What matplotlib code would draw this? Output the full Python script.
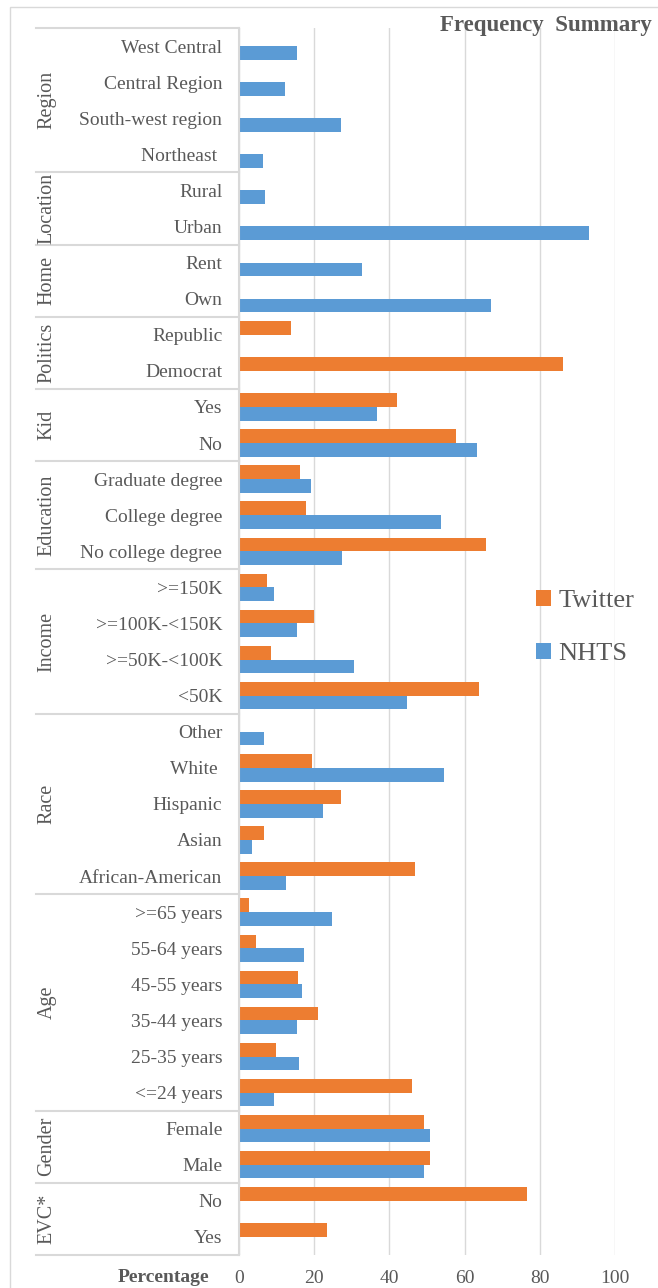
import numpy as np
import matplotlib.pyplot as plt
import matplotlib.transforms as mtransforms
from matplotlib.patches import Rectangle

plt.rcParams['font.family'] = ['Liberation Serif', 'DejaVu Serif']

# groups and their categories, listed top to bottom
groups = ["Region", "Location", "Home", "Politics", "Kid", "Education",
          "Income", "Race", "Age", "Gender", "EVC*"]
group_cats = [
    ["West Central", "Central Region", "South-west region", "Northeast "],
    ["Rural", "Urban"],
    ["Rent", "Own"],
    ["Republic", "Democrat"],
    ["Yes", "No"],
    ["Graduate degree", "College degree", "No college degree"],
    [">=150K", ">=100K-<150K", ">=50K-<100K", "<50K"],
    ["Other", "White ", "Hispanic", "Asian", "African-American"],
    [">=65 years", "55-64 years", "45-55 years", "35-44 years", "25-35 years", "<=24 years"],
    ["Female", "Male"],
    ["No", "Yes"],
]

# percentages (0 = no bar)
twitter = [0, 0, 0, 0,
           0, 0,
           0, 0,
           13.8, 86.3,
           42.1, 57.8,
           16.3, 17.7, 65.7,
           7.5, 19.9, 8.5, 63.7,
           0, 19.3, 27.1, 6.6, 46.9,
           2.6, 4.4, 15.7, 21.0, 9.8, 46.1,
           49.2, 50.8,
           76.7, 23.3]
nhts = [15.5, 12.2, 27.1, 6.5,
        6.8, 93.1,
        32.8, 67.1,
        0, 0,
        36.6, 63.4,
        19.1, 53.7, 27.3,
        9.2, 15.3, 30.6, 44.8,
        6.6, 54.5, 22.4, 3.5, 12.6,
        24.8, 17.4, 16.7, 15.5, 16.0, 9.2,
        50.8, 49.2,
        0, 0]

labels = [c for g in group_cats for c in g]
n = len(labels)
y = np.arange(n)

W, H = 658, 1288
fig = plt.figure(figsize=(W / 100, H / 100), dpi=100)
ax = fig.add_axes([239 / W, 1 - 1255 / H, (615 - 239) / W, 1227 / H])

text_col = '#595959'
grid_col = '#D9D9D9'

ax.barh(y - 0.19, twitter, height=0.38, color='#ED7D31', label='Twitter')
ax.barh(y + 0.19, nhts, height=0.38, color='#5B9BD5', label='NHTS')

ax.set_xlim(0, 100)
ax.set_ylim(n - 0.5, -0.5)
ax.set_xticks(np.arange(0, 101, 20))
ax.set_yticks(y, labels)
ax.tick_params(axis='x', length=0, pad=11, labelsize=14, labelcolor=text_col)
ax.tick_params(axis='y', length=0, pad=12, labelsize=14, labelcolor=text_col)
ax.grid(axis='x', color=grid_col, lw=1)
ax.set_axisbelow(True)
for s in ['top', 'right', 'bottom']:
    ax.spines[s].set_visible(False)
ax.spines['left'].set_color(grid_col)
ax.spines['left'].set_linewidth(1.5)

# group table on the left
trans = mtransforms.blended_transform_factory(fig.transFigure, ax.transData)
start = 0
bounds = [-0.5]
for g, cats in zip(groups, group_cats):
    end = start + len(cats)
    bounds.append(end - 0.5)
    ax.text(47 / W, (start + end - 1) / 2, g, transform=trans, rotation=90,
            ha='center', va='center', fontsize=14.5, color=text_col)
    start = end
for b in bounds:
    ax.plot([36 / W, 239 / W], [b, b], transform=trans, color=grid_col,
            lw=1.5, clip_on=False)

# chart border
fig.patches.append(Rectangle((10 / W, -0.05), 1.0, 1 - 7 / H + 0.05,
                             transform=fig.transFigure, fill=False,
                             ec=grid_col, lw=1))

fig.text(652 / W, 1 - 26 / H, "Frequency  Summary", ha='right', va='center',
         fontsize=16.5, weight='bold', color=text_col)
fig.text(209 / W, 1 - 1278 / H, "Percentage", ha='right', va='center',
         fontsize=14, weight='bold', color=text_col)

fig.legend(loc='upper left', bbox_to_anchor=(536 / W, 1 - 590 / H),
           frameon=False, fontsize=19, labelcolor=text_col,
           handlelength=0.55, handleheight=0.55, handletextpad=0.3,
           labelspacing=1.15, borderpad=0, borderaxespad=0)

fig.savefig('out.png', dpi=100)
